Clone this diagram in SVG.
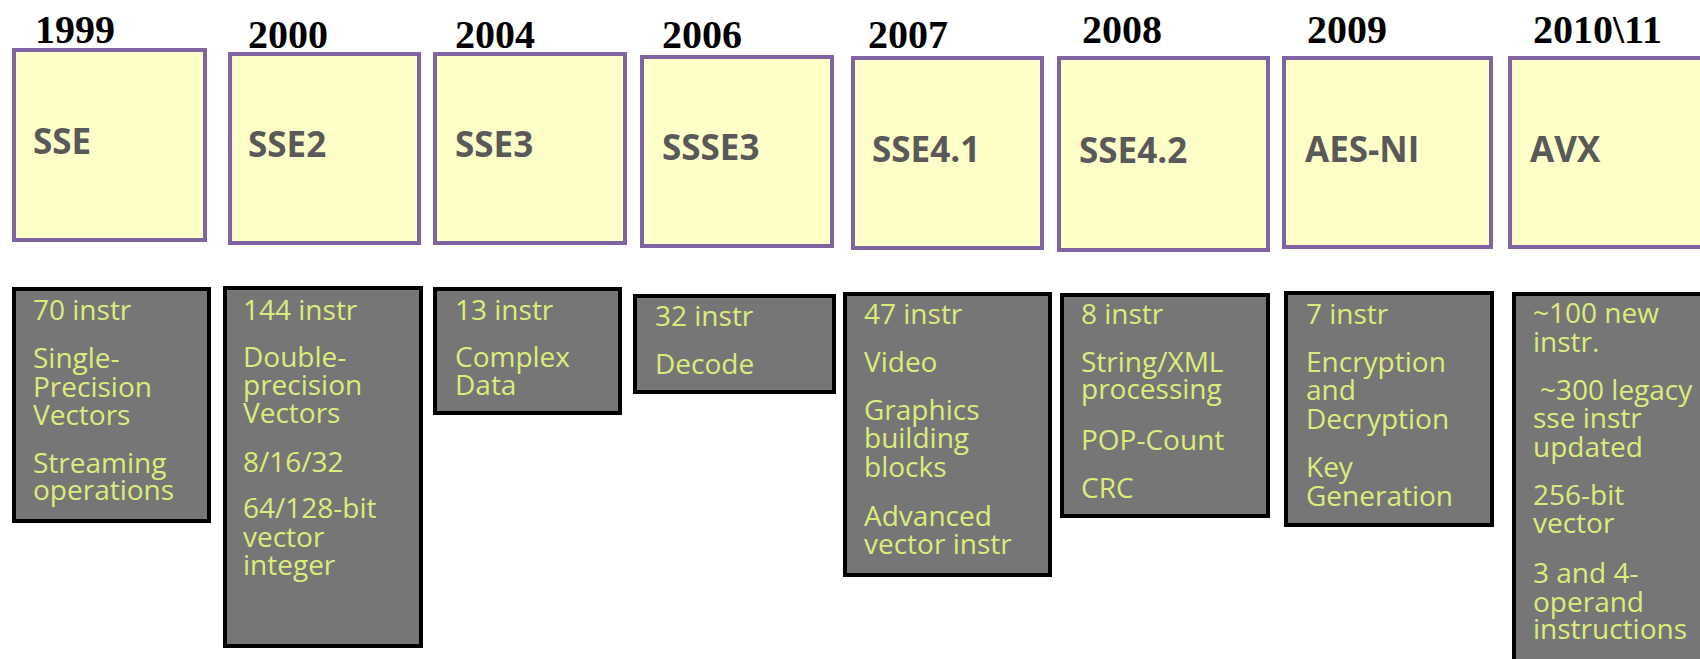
<svg xmlns="http://www.w3.org/2000/svg" width="1700" height="659" viewBox="0 0 1700 659">
<style>
.year{font-family:"Liberation Serif","Times New Roman",serif;font-weight:bold;font-size:40px;fill:#000}
.ext{fill:#FEFEC8;stroke:#8064A2;stroke-width:4}
.title{font-family:"Open Sans","Liberation Sans",sans-serif;font-weight:bold;font-size:35px;fill:#595959}
.info{fill:#767676;stroke:#000;stroke-width:4}
.t{font-family:"Open Sans","Liberation Sans",sans-serif;font-size:28px;fill:#DCEC7C}
</style>
<rect width="1700" height="659" fill="#fff"/>
<g id="connectors"></g>
<g id="sse">
<text class="year" x="35" y="43">1999</text>
<rect class="ext" x="14" y="50" width="191" height="190"/>
<text class="title" x="33" y="154">SSE</text>
<rect class="info" x="14" y="289" width="195" height="232"/>
<text class="t" x="33" y="320">70 instr</text>
<text class="t" x="33" y="368">Single-</text>
<text class="t" x="33" y="397">Precision</text>
<text class="t" x="33" y="425">Vectors</text>
<text class="t" x="33" y="473">Streaming</text>
<text class="t" x="33" y="500">operations</text>
</g>
<g id="sse2">
<text class="year" x="248" y="48">2000</text>
<rect class="ext" x="230" y="54" width="189" height="189"/>
<text class="title" x="248" y="157">SSE2</text>
<rect class="info" x="225" y="288" width="196" height="358"/>
<text class="t" x="243" y="320">144 instr</text>
<text class="t" x="243" y="367">Double-</text>
<text class="t" x="243" y="395">precision</text>
<text class="t" x="243" y="423">Vectors</text>
<text class="t" x="243" y="472">8/16/32</text>
<text class="t" x="243" y="518">64/128-bit</text>
<text class="t" x="243" y="547">vector</text>
<text class="t" x="243" y="575">integer</text>
</g>
<g id="sse3">
<text class="year" x="455" y="48">2004</text>
<rect class="ext" x="435" y="54" width="190" height="189"/>
<text class="title" x="455" y="157">SSE3</text>
<rect class="info" x="435" y="289" width="185" height="124"/>
<text class="t" x="455" y="320">13 instr</text>
<text class="t" x="455" y="367">Complex</text>
<text class="t" x="455" y="395">Data</text>
</g>
<g id="ssse3">
<text class="year" x="662" y="48">2006</text>
<rect class="ext" x="642" y="57" width="190" height="189"/>
<text class="title" x="662" y="160">SSSE3</text>
<rect class="info" x="635" y="296" width="199" height="96"/>
<text class="t" x="655" y="326">32 instr</text>
<text class="t" x="655" y="374">Decode</text>
</g>
<g id="sse41">
<text class="year" x="868" y="48">2007</text>
<rect class="ext" x="853" y="58" width="189" height="190"/>
<text class="title" x="872" y="162">SSE4.1</text>
<rect class="info" x="845" y="294" width="205" height="281"/>
<text class="t" x="864" y="324">47 instr</text>
<text class="t" x="864" y="372">Video</text>
<text class="t" x="864" y="420">Graphics</text>
<text class="t" x="864" y="448">building</text>
<text class="t" x="864" y="477">blocks</text>
<text class="t" x="864" y="526">Advanced</text>
<text class="t" x="864" y="554">vector instr</text>
</g>
<g id="sse42">
<text class="year" x="1082" y="43">2008</text>
<rect class="ext" x="1059" y="58" width="209" height="192"/>
<text class="title" x="1079" y="163">SSE4.2</text>
<rect class="info" x="1062" y="295" width="206" height="221"/>
<text class="t" x="1081" y="324">8 instr</text>
<text class="t" x="1081" y="372">String/XML</text>
<text class="t" x="1081" y="399">processing</text>
<text class="t" x="1081" y="450">POP-Count</text>
<text class="t" x="1081" y="498">CRC</text>
</g>
<g id="aesni">
<text class="year" x="1307" y="43">2009</text>
<rect class="ext" x="1284" y="58" width="207" height="189"/>
<text class="title" x="1305" y="162">AES-NI</text>
<rect class="info" x="1286" y="293" width="206" height="232"/>
<text class="t" x="1306" y="324">7 instr</text>
<text class="t" x="1306" y="372">Encryption</text>
<text class="t" x="1306" y="400">and</text>
<text class="t" x="1306" y="429">Decryption</text>
<text class="t" x="1306" y="477">Key</text>
<text class="t" x="1306" y="506">Generation</text>
</g>
<g id="avx">
<text class="year" x="1533" y="43">2010\11</text>
<rect class="ext" x="1510" y="58" width="220" height="189"/>
<text class="title" x="1530" y="162">AVX</text>
<rect class="info" x="1514" y="294" width="220" height="400"/>
<text class="t" x="1533" y="323">~100 new</text>
<text class="t" x="1533" y="352">instr.</text>
<text class="t" x="1540" y="400">~300 legacy</text>
<text class="t" x="1533" y="428">sse instr</text>
<text class="t" x="1533" y="457">updated</text>
<text class="t" x="1533" y="505">256-bit</text>
<text class="t" x="1533" y="533">vector</text>
<text class="t" x="1533" y="583">3 and 4-</text>
<text class="t" x="1533" y="612">operand</text>
<text class="t" x="1533" y="639">instructions</text>
</g>
</svg>
